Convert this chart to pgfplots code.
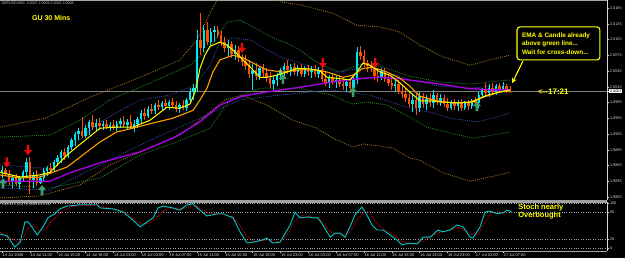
\documentclass[border=0pt]{standalone}
\usepackage{pgfplots}
\pgfplotsset{compat=1.18}
\usepackage{pgfplotstable}
\usepackage{fontspec}
\setmainfont{Liberation Sans}
\usetikzlibrary{arrows.meta}

\definecolor{bull}{RGB}{0,230,240}
\definecolor{bear}{RGB}{255,80,0}
\definecolor{emaY}{RGB}{255,255,0}
\definecolor{emaO}{RGB}{255,160,0}
\definecolor{maP}{RGB}{170,0,230}
\definecolor{bandBr}{RGB}{165,120,35}
\definecolor{bandGr}{RGB}{35,140,35}
\definecolor{bandBl}{RGB}{50,75,170}
\definecolor{sigR}{RGB}{230,10,10}
\definecolor{sigG}{RGB}{60,160,110}
\definecolor{stK}{RGB}{0,200,200}
\definecolor{stD}{RGB}{220,0,0}
\definecolor{txtY}{RGB}{255,255,0}

\pgfdeclareplotmark{dnarrow}{%
  \pgfpathmoveto{\pgfqpoint{-1.3pt}{5pt}}%
  \pgfpathlineto{\pgfqpoint{1.3pt}{5pt}}%
  \pgfpathlineto{\pgfqpoint{1.3pt}{0pt}}%
  \pgfpathlineto{\pgfqpoint{4pt}{0pt}}%
  \pgfpathlineto{\pgfqpoint{0pt}{-5pt}}%
  \pgfpathlineto{\pgfqpoint{-4pt}{0pt}}%
  \pgfpathlineto{\pgfqpoint{-1.3pt}{0pt}}%
  \pgfpathclose\pgfusepathqfill}
\pgfdeclareplotmark{uparrow}{%
  \pgfpathmoveto{\pgfqpoint{-1.3pt}{-5pt}}%
  \pgfpathlineto{\pgfqpoint{1.3pt}{-5pt}}%
  \pgfpathlineto{\pgfqpoint{1.3pt}{0pt}}%
  \pgfpathlineto{\pgfqpoint{4pt}{0pt}}%
  \pgfpathlineto{\pgfqpoint{0pt}{5pt}}%
  \pgfpathlineto{\pgfqpoint{-4pt}{0pt}}%
  \pgfpathlineto{\pgfqpoint{-1.3pt}{0pt}}%
  \pgfpathclose\pgfusepathqfill}

\pgfplotstableread{
i o h l c
0 1.9852 1.9864 1.9841 1.9856
1 1.9856 1.9860 1.9845 1.9849
2 1.9849 1.9856 1.9828 1.9833
3 1.9833 1.9847 1.9822 1.9841
4 1.9841 1.9849 1.9826 1.9830
5 1.9830 1.9845 1.9820 1.9841
6 1.9841 1.9856 1.9833 1.9852
7 1.9852 1.9879 1.9845 1.9871
8 1.9871 1.9881 1.9810 1.9837
9 1.9837 1.9852 1.9822 1.9847
10 1.9847 1.9856 1.9826 1.9832
11 1.9832 1.9845 1.9830 1.9841
12 1.9841 1.9860 1.9833 1.9854
13 1.9854 1.9864 1.9845 1.9860
14 1.9860 1.9870 1.9849 1.9856
15 1.9856 1.9875 1.9852 1.9871
16 1.9871 1.9885 1.9864 1.9879
17 1.9879 1.9894 1.9870 1.9891
18 1.9891 1.9898 1.9875 1.9883
19 1.9883 1.9904 1.9879 1.9900
20 1.9900 1.9917 1.9894 1.9913
21 1.9913 1.9929 1.9902 1.9925
22 1.9925 1.9936 1.9913 1.9930
23 1.9930 1.9957 1.9917 1.9921
24 1.9921 1.9942 1.9917 1.9936
25 1.9936 1.9951 1.9923 1.9948
26 1.9948 1.9961 1.9932 1.9938
27 1.9938 1.9953 1.9930 1.9946
28 1.9946 1.9955 1.9932 1.9940
29 1.9940 1.9950 1.9932 1.9944
30 1.9944 1.9951 1.9934 1.9938
31 1.9938 1.9948 1.9930 1.9942
32 1.9942 1.9951 1.9932 1.9936
33 1.9936 1.9950 1.9930 1.9944
34 1.9944 1.9955 1.9936 1.9950
35 1.9950 1.9959 1.9938 1.9942
36 1.9942 1.9953 1.9932 1.9948
37 1.9948 1.9961 1.9934 1.9938
38 1.9938 1.9951 1.9929 1.9944
39 1.9944 1.9957 1.9936 1.9953
40 1.9953 1.9970 1.9946 1.9965
41 1.9965 1.9974 1.9951 1.9959
42 1.9959 1.9978 1.9955 1.9972
43 1.9972 1.9982 1.9963 1.9969
44 1.9969 1.9984 1.9963 1.9980
45 1.9980 1.9990 1.9970 1.9976
46 1.9976 1.9988 1.9969 1.9984
47 1.9984 1.9991 1.9972 1.9978
48 1.9978 1.9990 1.9970 1.9986
49 1.9986 1.9993 1.9974 1.9980
50 1.9980 1.9988 1.9967 1.9972
51 1.9972 1.9984 1.9965 1.9980
52 1.9980 1.9990 1.9970 1.9974
53 1.9974 1.9993 1.9969 1.9990
54 1.9990 2.0012 1.9984 2.0005
55 2.0005 2.0020 1.9990 2.0012
56 2.0012 2.0123 2.0005 2.0104
57 2.0104 2.0155 2.0075 2.0089
58 2.0089 2.0132 2.0081 2.0123
59 2.0123 2.0138 2.0094 2.0100
60 2.0100 2.0127 2.0092 2.0119
61 2.0119 2.0130 2.0100 2.0123
62 2.0123 2.0130 2.0108 2.0113
63 2.0113 2.0121 2.0092 2.0100
64 2.0100 2.0110 2.0081 2.0089
65 2.0089 2.0104 2.0073 2.0096
66 2.0096 2.0102 2.0070 2.0077
67 2.0077 2.0094 2.0066 2.0085
68 2.0085 2.0092 2.0062 2.0070
69 2.0070 2.0077 2.0054 2.0062
70 2.0062 2.0075 2.0047 2.0054
71 2.0054 2.0066 2.0031 2.0039
72 2.0039 2.0058 2.0009 2.0047
73 2.0047 2.0060 2.0028 2.0035
74 2.0035 2.0054 2.0028 2.0050
75 2.0050 2.0058 2.0031 2.0041
76 2.0041 2.0050 2.0024 2.0031
77 2.0031 2.0043 2.0012 2.0020
78 2.0020 2.0035 2.0009 2.0028
79 2.0028 2.0041 2.0016 2.0037
80 2.0037 2.0050 2.0028 2.0047
81 2.0047 2.0060 2.0035 2.0054
82 2.0054 2.0066 2.0039 2.0047
83 2.0047 2.0058 2.0035 2.0052
84 2.0052 2.0060 2.0037 2.0043
85 2.0043 2.0056 2.0035 2.0050
86 2.0050 2.0058 2.0033 2.0039
87 2.0039 2.0054 2.0033 2.0049
88 2.0049 2.0056 2.0035 2.0043
89 2.0043 2.0054 2.0031 2.0047
90 2.0047 2.0056 2.0033 2.0039
91 2.0039 2.0052 2.0031 2.0047
92 2.0047 2.0054 2.0024 2.0030
93 2.0030 2.0043 2.0016 2.0022
94 2.0022 2.0037 2.0012 2.0031
95 2.0031 2.0039 2.0018 2.0024
96 2.0024 2.0035 2.0012 2.0028
97 2.0028 2.0037 2.0014 2.0020
98 2.0020 2.0033 2.0009 2.0016
99 2.0016 2.0028 2.0005 2.0024
100 2.0024 2.0031 2.0003 2.0012
101 2.0012 2.0035 1.9999 2.0028
102 2.0028 2.0090 2.0020 2.0081
103 2.0081 2.0092 2.0066 2.0073
104 2.0073 2.0085 2.0052 2.0060
105 2.0060 2.0066 2.0043 2.0054
106 2.0054 2.0064 2.0043 2.0050
107 2.0050 2.0050 2.0028 2.0035
108 2.0035 2.0049 2.0024 2.0031
109 2.0031 2.0050 2.0028 2.0045
110 2.0045 2.0050 2.0024 2.0030
111 2.0030 2.0039 2.0016 2.0022
112 2.0022 2.0033 2.0009 2.0016
113 2.0016 2.0028 2.0005 2.0020
114 2.0020 2.0028 2.0001 2.0007
115 2.0007 2.0020 1.9993 2.0001
116 2.0001 2.0012 1.9986 1.9993
117 1.9993 2.0005 1.9976 1.9982
118 1.9982 1.9999 1.9967 1.9990
119 1.9990 2.0001 1.9961 1.9974
120 1.9974 2.0005 1.9967 1.9997
121 1.9997 2.0003 1.9974 1.9982
122 1.9982 1.9999 1.9970 1.9991
123 1.9991 2.0003 1.9976 1.9984
124 1.9984 2.0009 1.9974 1.9999
125 1.9999 2.0003 1.9980 1.9988
126 1.9988 2.0001 1.9978 1.9993
127 1.9993 1.9999 1.9976 1.9982
128 1.9982 1.9993 1.9969 1.9974
129 1.9974 1.9990 1.9970 1.9986
130 1.9986 1.9991 1.9970 1.9978
131 1.9978 1.9990 1.9969 1.9984
132 1.9984 1.9991 1.9969 1.9974
133 1.9974 1.9988 1.9970 1.9984
134 1.9984 1.9990 1.9970 1.9978
135 1.9978 1.9991 1.9972 1.9988
136 1.9988 1.9995 1.9978 1.9984
137 1.9984 2.0005 1.9974 1.9999
138 1.9999 2.0012 1.9993 2.0009
139 2.0009 2.0022 1.9997 2.0003
140 2.0003 2.0020 1.9995 2.0012
141 2.0012 2.0022 1.9999 2.0005
142 2.0005 2.0020 1.9999 2.0016
143 2.0016 2.0022 2.0003 2.0009
144 2.0009 2.0024 2.0005 2.0016
145 2.0016 2.0020 2.0003 2.0010
146 2.0010 2.0016 2.0003 2.0008
}\candles

\begin{document}
\begin{tikzpicture}
\useasboundingbox (0,0) rectangle (625pt,258pt);
\fill[black] (0,0) rectangle (625pt,258pt);

% ---------------- main price panel ----------------
\begin{axis}[
  at={(0pt,58pt)}, anchor=south west,
  scale only axis, width=607pt, height=200pt,
  xmin=-0.575, xmax=173.85,
  ymin=1.97992, ymax=2.01802,
  axis x line*=box, axis y line*=right,
  x axis line style={draw=gray!70, line width=0.6pt},
  y axis line style={draw=white!85!black, line width=0.5pt},
  xtick=\empty,
  scaled y ticks=false,
  ytick={1.9805,1.9835,1.9865,1.9895,1.9925,1.9955,1.9985,2.0015,2.0045,2.0075,2.0105,2.0135,2.0165},
  yticklabels={1.9805,1.9835,1.9865,1.9895,1.9925,1.9955,1.9985,2.0015,2.0045,2.0075,2.0105,2.0135,2.0165},
  extra y ticks={2.0007},
  extra y tick labels={2.0007},
  extra y tick style={yticklabel style={fill=white, text=black}},
  tick align=outside, major tick length=2pt,
  tick style={white!85!black, line width=0.4pt},
  yticklabel style={font=\fontsize{3.8}{4}\selectfont, text=white!85!black, inner sep=0.8pt},
  clip=true,
]
% bid line
\addplot[gray, line width=0.7pt, forget plot] coordinates {(-0.575,2.0007) (173.85,2.0007)};

% dotted bands
\pgfplotsset{band/.style={line width=0.8pt, dash pattern=on 0.9pt off 1.1pt, forget plot}}
\addplot[band, bandBr] coordinates {(-0.6,1.9938) (12.4,1.9955) (25.3,1.9995) (39.7,2.0033) (51.1,2.0066) (56.0,2.0104) (59.8,2.0155) (63.2,2.0199) (74.1,2.0199) (80.7,2.0176) (85.6,2.0171) (95.1,2.0155) (102.0,2.0132) (108.6,2.0129) (114.4,2.0119) (120.1,2.0094) (126.7,2.0072) (134.5,2.0056) (140.2,2.0066) (146.0,2.0075)};
\addplot[band, bandBr] coordinates {(-0.6,1.9803) (10.9,1.9807) (22.4,1.9828) (31.0,1.9866) (42.5,1.9898) (51.1,1.9923) (59.8,1.9967) (64.1,1.9990) (69.0,1.9999) (76.1,1.9980) (83.6,1.9951) (90.5,1.9936) (95.1,1.9917) (100.9,1.9900) (103.7,1.9906) (108.6,1.9902) (112.4,1.9898) (117.2,1.9879) (120.1,1.9875) (126.7,1.9851) (134.5,1.9835) (140.2,1.9843) (146.0,1.9852)};
\addplot[band, bandGr] coordinates {(-0.6,1.9919) (13.8,1.9923) (22.4,1.9951) (31.0,1.9990) (42.5,2.0022) (54.0,2.0056) (59.8,2.0090) (64.7,2.0138) (68.4,2.0142) (72.1,2.0129) (77.9,2.0108) (81.9,2.0098) (85.6,2.0085) (89.4,2.0066) (93.4,2.0052) (97.1,2.0043) (102.9,2.0058) (108.6,2.0054) (117.2,2.0035) (125.9,2.0024) (134.5,2.0020) (146.0,2.0028)};
\addplot[band, bandGr] coordinates {(-0.6,1.9828) (13.8,1.9822) (28.2,1.9841) (39.7,1.9885) (50.3,1.9910) (59.8,1.9936) (65.5,1.9990) (74.1,2.0012) (85.6,2.0012) (94.8,1.9999) (99.1,1.9986) (100.9,1.9982) (104.9,1.9986) (110.6,1.9980) (117.2,1.9957) (122.1,1.9938) (128.7,1.9927) (135.3,1.9917) (141.1,1.9923) (146.0,1.9929)};
\addplot[band, bandBl] coordinates {(-0.6,1.9866) (12.4,1.9860) (19.5,1.9898) (28.2,1.9948) (39.7,1.9990) (48.3,1.9999) (55.5,2.0018) (59.8,2.0056) (62.6,2.0100) (66.4,2.0108) (71.3,2.0104) (76.1,2.0085) (80.7,2.0070) (85.6,2.0060) (90.5,2.0050) (97.1,2.0043) (102.9,2.0050) (108.6,2.0047) (117.2,2.0028) (125.9,2.0016) (134.5,2.0012) (146.0,2.0020)};
\addplot[band, bandBl] coordinates {(-0.6,1.9822) (13.8,1.9818) (28.2,1.9866) (42.5,1.9913) (56.9,1.9955) (68.4,1.9990) (79.9,1.9999) (94.3,2.0009) (105.7,1.9999) (114.4,1.9980) (120.1,1.9970) (123.9,1.9965) (128.7,1.9955) (136.5,1.9948) (140.9,1.9955) (146.0,1.9965)};

% candles: wicks and bodies
\addplot[draw=none, forget plot, restrict expr to domain={\thisrow{c}-\thisrow{o}}{0:1},
  error bars/.cd, y dir=both, y explicit, error mark=none, error bar style={draw=bull, line width=0.7pt}]
  table[x=i, y expr={(\thisrow{h}+\thisrow{l})/2}, y error expr={(\thisrow{h}-\thisrow{l})/2}] {\candles};
\addplot[draw=none, forget plot, restrict expr to domain={\thisrow{c}-\thisrow{o}}{-1:0},
  error bars/.cd, y dir=both, y explicit, error mark=none, error bar style={draw=bear, line width=0.7pt}]
  table[x=i, y expr={(\thisrow{h}+\thisrow{l})/2}, y error expr={(\thisrow{h}-\thisrow{l})/2}] {\candles};
\addplot[draw=none, forget plot, restrict expr to domain={\thisrow{c}-\thisrow{o}}{0:1},
  error bars/.cd, y dir=both, y explicit, error mark=none, error bar style={draw=bull, line width=2.5pt}]
  table[x=i, y expr={(\thisrow{o}+\thisrow{c})/2}, y error expr={abs(\thisrow{c}-\thisrow{o})/2}] {\candles};
\addplot[draw=none, forget plot, restrict expr to domain={\thisrow{c}-\thisrow{o}}{-1:0},
  error bars/.cd, y dir=both, y explicit, error mark=none, error bar style={draw=bear, line width=2.5pt}]
  table[x=i, y expr={(\thisrow{o}+\thisrow{c})/2}, y error expr={abs(\thisrow{c}-\thisrow{o})/2}] {\candles};

% moving averages
\addplot[maP, line width=1.3pt, forget plot] coordinates {(-0.6,1.9835) (13.8,1.9835) (19.5,1.9851) (28.2,1.9870) (39.7,1.9891) (49.7,1.9919) (56.9,1.9948) (62.6,1.9980) (69.0,1.9997) (76.1,2.0005) (85.6,2.0014) (95.1,2.0024) (102.0,2.0030) (108.6,2.0033) (114.4,2.0030) (123.9,2.0022) (133.6,2.0012) (140.2,2.0009) (146.0,2.0009)};
\addplot[emaO, line width=1.1pt, forget plot] coordinates {(-0.6,1.9847) (5.2,1.9841) (10.9,1.9843) (18.7,1.9862) (28.2,1.9910) (33.0,1.9929) (37.6,1.9936) (43.4,1.9946) (49.1,1.9955) (54.9,1.9970) (56.9,1.9990) (58.9,2.0012) (60.6,2.0043) (62.6,2.0066) (66.4,2.0075) (69.3,2.0070) (73.3,2.0056) (76.1,2.0047) (80.7,2.0043) (85.6,2.0047) (90.5,2.0047) (93.4,2.0043) (98.0,2.0033) (100.9,2.0037) (103.7,2.0050) (106.6,2.0052) (110.6,2.0043) (114.4,2.0031) (117.2,2.0016) (120.1,1.9997) (125.0,1.9988) (129.6,1.9984) (134.5,1.9986) (138.2,1.9995) (143.1,2.0005) (146.0,2.0007)};
\addplot[emaY, line width=1.0pt, forget plot] coordinates {(-0.6,1.9852) (5.2,1.9843) (10.9,1.9847) (13.8,1.9852) (18.7,1.9885) (23.3,1.9910) (28.2,1.9936) (33.0,1.9938) (37.6,1.9938) (42.5,1.9951) (47.4,1.9976) (51.1,1.9974) (54.0,1.9982) (55.5,2.0005) (56.9,2.0050) (58.3,2.0075) (59.8,2.0092) (62.6,2.0100) (64.7,2.0094) (66.4,2.0085) (69.3,2.0066) (72.1,2.0047) (74.1,2.0033) (76.1,2.0033) (79.0,2.0037) (81.9,2.0043) (84.8,2.0050) (88.5,2.0049) (91.4,2.0045) (93.4,2.0033) (96.3,2.0031) (100.0,2.0028) (102.0,2.0043) (103.7,2.0060) (105.7,2.0056) (108.6,2.0043) (111.5,2.0037) (114.4,2.0022) (117.2,2.0005) (120.1,1.9988) (123.9,1.9988) (125.9,1.9986) (131.6,1.9984) (135.3,1.9986) (139.4,1.9999) (143.1,2.0005) (146.0,2.0009)};

% signal arrows
\addplot[only marks, mark=dnarrow, color=sigR, fill=sigR, forget plot] coordinates {(1.4,1.9871) (7.5,1.9894) (69.0,2.0089) (92.2,2.0060) (107.2,2.0060)};
\addplot[only marks, mark=uparrow, color=sigG, fill=sigG, forget plot] coordinates {(0.3,1.9831) (11.5,1.9818) (80.7,2.0030) (100.9,2.0005) (136.5,1.9978)};

% texts
\node[anchor=north west, inner sep=0pt, text=white!80!black, font=\fontsize{3.6}{4}\selectfont] at (axis cs:-0.2,2.0177) {GBPUSD,M30 \ 2.0007 2.0009 2.0002 2.0008};
\node[anchor=west, inner sep=0pt, text=txtY, font=\fontsize{7}{8}\selectfont\bfseries] at (axis cs:8.6,2.0146) {GU 30 Mins};
\draw[txtY, line width=1.1pt, rounded corners=3pt, fill=black] (axis cs:148.0,2.0129) rectangle (axis cs:171.8,2.0066);
\node[anchor=west, inner sep=0pt, text=txtY, align=left, font=\fontsize{6.4}{8.4}\selectfont\bfseries] at (axis cs:149.4,2.0097) {EMA \& Candle already\\above green line...\\Wait for cross-down...};
\draw[txtY, line width=1.1pt, -{Stealth[length=5pt,width=5pt]}] (axis cs:149.7,2.0064) -- (axis cs:146.6,2.0022);
\node[anchor=west, inner sep=0pt, text=txtY, font=\fontsize{8}{9}\selectfont\bfseries] at (axis cs:154.0,2.0006) {<-{}-17:21};
\end{axis}

\fill[gray!75] (0pt,56pt) rectangle (607pt,58.5pt);

% ---------------- stochastic panel ----------------
\begin{axis}[
  at={(0pt,7pt)}, anchor=south west,
  scale only axis, width=607pt, height=49pt,
  xmin=-0.575, xmax=173.85,
  ymin=-6.67, ymax=102.2,
  axis x line*=box, axis y line*=right,
  x axis line style={draw=gray!70, line width=0.6pt},
  y axis line style={draw=white!85!black, line width=0.5pt},
  ytick={0,20,80,100}, yticklabels={0,20,80,100},
  xtick={0,8,...,144},
  xticklabels={14 Jul 2008,14 Jul 11:00,14 Jul 15:00,14 Jul 19:00,14 Jul 23:00,15 Jul 03:00,15 Jul 07:00,15 Jul 11:00,15 Jul 15:00,15 Jul 19:00,15 Jul 23:00,16 Jul 03:00,16 Jul 07:00,16 Jul 11:00,16 Jul 15:00,16 Jul 19:00,16 Jul 23:00,17 Jul 03:00,17 Jul 07:00},
  xtick pos=bottom,
  tick align=outside, major tick length=2pt,
  tick style={white!85!black, line width=0.4pt},
  yticklabel style={font=\fontsize{3.8}{4}\selectfont, text=white!85!black, inner sep=0.8pt},
  xticklabel style={font=\fontsize{4}{4.5}\selectfont, text=white!85!black, anchor=north west, inner sep=0pt, yshift=0pt, xshift=0.5pt},
  clip=true,
]
\addplot[gray!70, dotted, line width=0.4pt, forget plot] coordinates {(-0.575,100) (173.85,100)};
\addplot[gray!70, dotted, line width=0.4pt, forget plot] coordinates {(-0.575,80) (173.85,80)};
\addplot[gray!70, dotted, line width=0.4pt, forget plot] coordinates {(-0.575,20) (173.85,20)};
\addplot[gray!70, dotted, line width=0.4pt, forget plot] coordinates {(-0.575,0) (173.85,0)};
% signal line
\addplot[stD, line width=0.8pt, dash pattern=on 0.9pt off 1pt, forget plot] coordinates {(-0.6,35) (2,25) (4.5,12) (6,20) (7.5,45) (9,52) (10.5,40) (12.5,40) (14,58) (16,72) (18,85) (20,92) (23,95) (28,94) (30,90) (33,86) (36,76) (38.5,60) (41,53) (43,58) (45,72) (47,86) (50,89) (52,87) (54,92) (56,93) (58,82) (60,76) (63,75) (66,70) (68,55) (70,30) (72,16) (74,14) (76,18) (78,16) (80,14) (82,30) (84,58) (86,72) (88,70) (90,68) (92,60) (94,38) (96,32) (98,30) (100,35) (102,62) (104,80) (105.5,82) (107,62) (109,45) (111,36) (113,27) (115,15) (117,10) (119,10) (121,16) (123,24) (125,32) (127,38) (129,40) (131,46) (133,40) (135,30) (137,32) (139,60) (140.5,78) (142.5,80) (144.5,79) (146.6,81)};
% main line
\addplot[stK, line width=0.9pt, forget plot] coordinates {(-0.6,31) (1.4,27) (3.7,2) (5.2,13) (6.6,58) (7.5,58) (8.6,47) (10.1,29) (11.8,47) (13.2,67) (15.2,76) (16.7,87) (18.7,93) (22.4,96) (27.3,96) (28.2,89) (31.9,87) (34.8,80) (37.6,62) (39.7,47) (41.7,58) (43.4,67) (44.8,89) (46.3,93) (49.1,89) (51.1,84) (53.2,96) (54.9,98) (56.9,84) (58.9,71) (61.8,76) (63.5,76) (66.4,67) (68.4,36) (70.4,11) (72.1,13) (75.0,18) (76.1,22) (77.9,11) (79.9,13) (82.8,51) (84.2,80) (85.6,67) (87.9,69) (89.4,67) (90.8,67) (92.2,51) (94.3,24) (95.7,33) (97.1,33) (98.6,24) (100.0,47) (101.4,73) (103.4,91) (104.9,73) (106.3,51) (107.8,40) (109.5,40) (111.5,29) (113.5,18) (114.9,7) (117.2,11) (119.3,9) (121.0,24) (123.0,24) (125.3,40) (126.7,36) (128.7,40) (130.7,51) (132.5,47) (134.5,24) (135.3,22) (137.4,47) (138.8,80) (140.2,82) (142.2,76) (144.0,78) (145.1,84) (146.0,82) (146.6,78)};
\node[anchor=north west, inner sep=0pt, text=white!80!black, font=\fontsize{3.6}{4}\selectfont] at (axis cs:-0.2,101) {Stoch(14,3,3) 79.4386 85.4192};
\node[anchor=north west, inner sep=0pt, text=txtY, align=left, font=\fontsize{7.5}{8.8}\selectfont\bfseries] at (axis cs:148.3,99) {Stoch nearly\\Overbought};
\end{axis}
\end{tikzpicture}
\end{document}
